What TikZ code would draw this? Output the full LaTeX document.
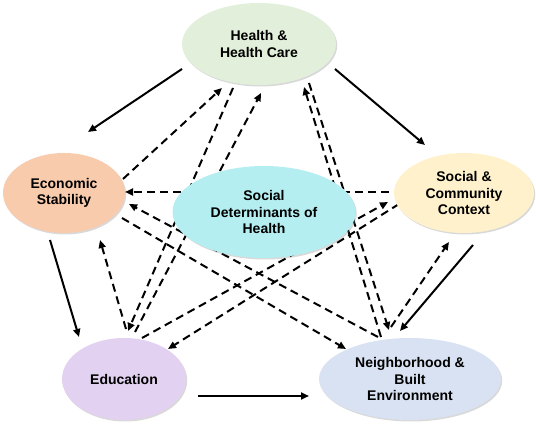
\documentclass[tikz,border=0pt]{standalone}
\usepackage{fontspec}
\setmainfont{Liberation Sans}
\usetikzlibrary{positioning,shapes.geometric,arrows.meta,backgrounds,shadows}

\definecolor{healthgreen}{HTML}{E2EFDA}
\definecolor{econpeach}{HTML}{F8CBAD}
\definecolor{sdohcyan}{HTML}{B4EEF0}
\definecolor{socialcream}{HTML}{FEF1CC}
\definecolor{edulilac}{HTML}{E2D1F0}
\definecolor{hoodblue}{HTML}{D9E2F2}

\begin{document}
\begin{tikzpicture}[x=1pt, y=-1pt,
    sdbox/.style={ellipse, inner sep=0pt, align=center,
        font=\fontsize{14}{16.5}\selectfont\bfseries,
        drop shadow={opacity=0.3, shadow xshift=1.2pt, shadow yshift=-1.5pt}},
    solidlink/.style={line width=2pt, -{Triangle[length=8pt,width=7pt]}},
    dashlink/.style={line width=2pt, dash pattern=on 8pt off 5pt,
        -{Triangle[length=8pt,width=7pt]}}]
    \useasboundingbox (0,0) rectangle (536,427);

    \node[sdbox, fill=healthgreen, minimum width=154pt, minimum height=82pt] (hhc) at (259,44)
    {Health \&\\Health Care};
    \node[sdbox, fill=econpeach, minimum width=122pt, minimum height=80pt] (es) at (64,193)
    {Economic\\Stability};
    \node[sdbox, fill=sdohcyan, minimum width=183pt, minimum height=92pt] (sdh) at (264,212)
    {Social\\Determinants of\\Health};
    \node[sdbox, fill=socialcream, minimum width=140pt, minimum height=80pt] (scc) at (464,193)
    {Social \&\\Community\\Context};
    \node[sdbox, fill=edulilac, minimum width=124pt, minimum height=82pt] (ed) at (124,379)
    {Education};
    \node[sdbox, fill=hoodblue, minimum width=182pt, minimum height=82pt] (nbe) at (410,379)
    {Neighborhood \&\\Built\\Environment};

    \begin{scope}[on background layer]
        % solid links around the ring
        \draw[solidlink] ([shift={(-77,25)}]hhc.center) -- ([shift={(24,-61)}]es.center);
        \draw[solidlink] ([shift={(76,25)}]hhc.center) -- ([shift={(-39,-48)}]scc.center);
        \draw[solidlink] ([shift={(-14,47)}]es.center) -- ([shift={(-45,-42)}]ed.center);
        \draw[solidlink] ([shift={(9,52)}]scc.center) -- ([shift={(-10,-48)}]nbe.center);
        \draw[solidlink] ([shift={(74,17)}]ed.center) -- ([shift={(-101,17)}]nbe.center);

        % dashed cross links
        \draw[dashlink] ([shift={(59,-14)}]es.center) -- ([shift={(-37,44)}]hhc.center);
        \draw[dashlink] ([shift={(-26,44)}]hhc.center) -- ([shift={(4,-48)}]ed.center);
        \draw[dashlink] ([shift={(11,-47)}]ed.center) -- ([shift={(2,49)}]hhc.center);
        \draw[dashlink] ([shift={(50,39)}]hhc.center) -- ([shift={(-21,-49)}]nbe.center);
        \draw[dashlink] ([shift={(-29,-42)}]nbe.center) -- ([shift={(45,43)}]hhc.center);
        \draw[dashlink] ([shift={(-75,-1)}]scc.center) -- ([shift={(61,-1)}]es.center);
        \draw[dashlink] ([shift={(-32,-42)}]nbe.center) -- ([shift={(65,11)}]es.center);
        \draw[dashlink] ([shift={(58,25)}]es.center) -- ([shift={(-64,-30)}]nbe.center);
        \draw[dashlink] ([shift={(2,-50)}]ed.center) -- ([shift={(36,47)}]es.center);
        \draw[dashlink] ([shift={(18,-41)}]ed.center) -- ([shift={(-76,9)}]scc.center);
        \draw[dashlink] ([shift={(-65,11)}]scc.center) -- ([shift={(44,-30)}]ed.center);
        \draw[dashlink] ([shift={(-19,-52)}]nbe.center) -- ([shift={(-15,49)}]scc.center);
    \end{scope}
\end{tikzpicture}
\end{document}
